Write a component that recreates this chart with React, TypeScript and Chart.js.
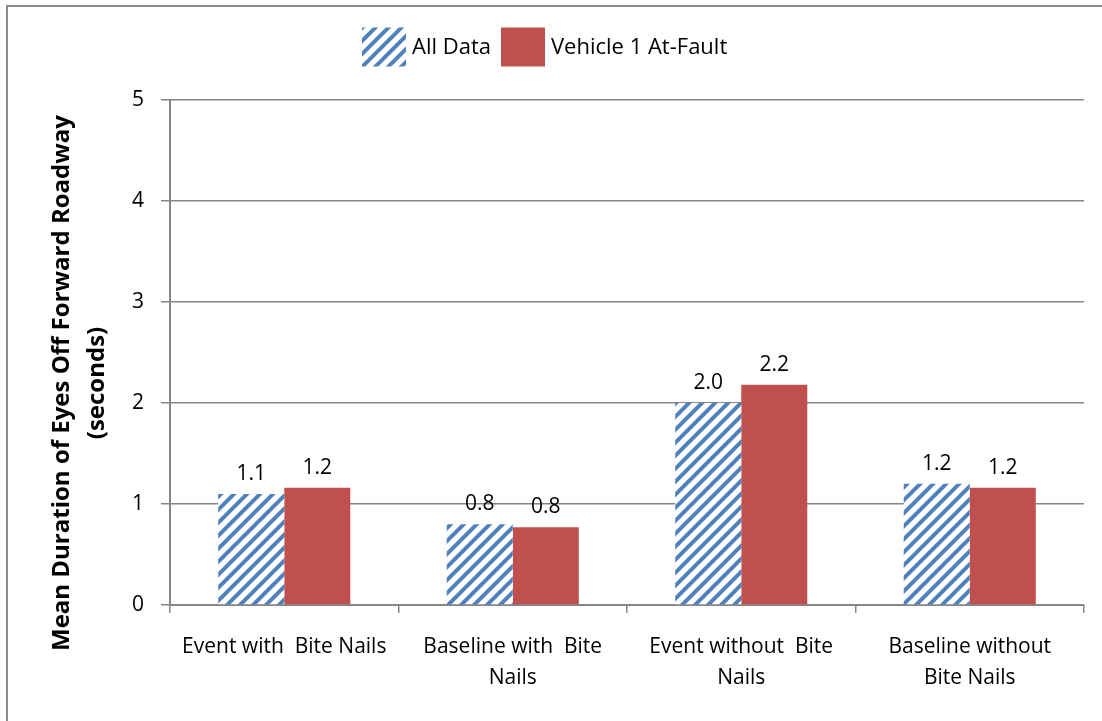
import React, { useEffect, useRef } from "react";
import { Chart, registerables } from "chart.js";

Chart.register(...registerables);

const categories: string[][] = [
  ["Event with  Bite Nails"],
  ["Baseline with  Bite", "Nails"],
  ["Event without  Bite", "Nails"],
  ["Baseline without", "Bite Nails"],
];
const allData = [1.1, 0.8, 2.0, 1.2];
const vehicleAtFault = [1.16, 0.77, 2.18, 1.16];
const seriesNames = ["All Data", "Vehicle 1 At-Fault"];
const yTitleLines = ["Mean Duration of Eyes Off Forward Roadway", "(seconds)"];
const yMin = 0;
const yMax = 5;

const BLUE = "#4F81BD";
const RED = "#C0504D";
const GRID = "#868686";
const FONT = "'Open Sans', 'Liberation Sans', sans-serif";

function makeHatch(): CanvasPattern | string {
  const size = 13;
  const c = document.createElement("canvas");
  c.width = size;
  c.height = size;
  const g = c.getContext("2d");
  if (!g) return BLUE;
  g.fillStyle = "#ffffff";
  g.fillRect(0, 0, size, size);
  g.strokeStyle = BLUE;
  g.lineWidth = 4;
  g.beginPath();
  g.moveTo(-size, 2 * size);
  g.lineTo(2 * size, -size);
  g.moveTo(-size, size);
  g.lineTo(size, -size);
  g.moveTo(0, 2 * size);
  g.lineTo(2 * size, 0);
  g.stroke();
  const p = g.createPattern(c, "repeat");
  return p || BLUE;
}

export default function App() {
  const ref = useRef<HTMLCanvasElement | null>(null);

  useEffect(() => {
    const canvas = ref.current;
    if (!canvas) return;
    const hatch = makeHatch();

    const extras = {
      id: "extras",
      afterDraw(chart: any) {
        const ctx = chart.ctx as CanvasRenderingContext2D;
        ctx.save();
        // frame
        ctx.strokeStyle = "#8C8C8C";
        ctx.lineWidth = 2;
        ctx.strokeRect(7, 6, 1200, 800);

        // value labels
        ctx.fillStyle = "#000";
        ctx.font = `21px ${FONT}`;
        ctx.textAlign = "center";
        ctx.textBaseline = "alphabetic";
        chart.data.datasets.forEach((ds: any, i: number) => {
          const meta = chart.getDatasetMeta(i);
          meta.data.forEach((bar: any, j: number) => {
            const v = ds.data[j] as number;
            ctx.fillText(v.toFixed(1), bar.x, bar.y - 14);
          });
        });

        // y axis title
        const cy = 383;
        ctx.font = `bold 24px ${FONT}`;
        ctx.textBaseline = "middle";
        ctx.textAlign = "center";
        yTitleLines.forEach((line, k) => {
          ctx.save();
          ctx.translate(62 + k * 35, cy);
          ctx.rotate(-Math.PI / 2);
          ctx.fillText(line, 0, 0, 552);
          ctx.restore();
        });

        // legend
        const items = [
          { label: seriesNames[0], fill: hatch },
          { label: seriesNames[1], fill: RED },
        ];
        ctx.font = `22px ${FONT}`;
        ctx.textAlign = "left";
        ctx.textBaseline = "middle";
        const boxW = 44;
        const boxH = 39;
        const gap = 6;
        const itemGap = 10;
        let x = 362;
        const y = 47;
        items.forEach((it) => {
          ctx.fillStyle = it.fill as any;
          ctx.fillRect(x, y - boxH / 2, boxW, boxH);
          ctx.fillStyle = "#000";
          ctx.fillText(it.label, x + boxW + gap, y + 1);
          x += boxW + gap + ctx.measureText(it.label).width + itemGap;
        });
        ctx.restore();
      },
    };

    const chart = new Chart(canvas, {
      type: "bar",
      data: {
        labels: categories,
        datasets: [
          {
            label: seriesNames[0],
            data: allData,
            backgroundColor: hatch as any,
            borderWidth: 0,
            categoryPercentage: 0.578,
            barPercentage: 1,
          },
          {
            label: seriesNames[1],
            data: vehicleAtFault,
            backgroundColor: RED,
            borderWidth: 0,
            categoryPercentage: 0.578,
            barPercentage: 1,
          },
        ],
      },
      options: {
        responsive: false,
        animation: false,
        devicePixelRatio: 1,
        layout: { padding: { top: 100, right: 18, left: 0, bottom: 0 } },
        plugins: {
          legend: { display: false },
          tooltip: { enabled: false },
        },
        scales: {
          x: {
            grid: {
              display: true,
              drawOnChartArea: false,
              drawTicks: true,
              tickLength: 8,
              color: GRID,
              lineWidth: 1.5,
              offset: true,
            },
            border: { display: true, color: GRID, width: 2 },
            ticks: {
              color: "#000",
              font: { family: FONT, size: 21, lineHeight: 1.5 },
              padding: 18,
              maxRotation: 0,
              autoSkip: false,
            },
            afterFit: (s: any) => {
              s.height = 116;
            },
          },
          y: {
            min: yMin,
            max: yMax,
            grid: {
              color: GRID,
              lineWidth: 1.5,
              drawTicks: true,
              tickLength: 9,
            },
            border: { display: true, color: GRID, width: 2 },
            ticks: {
              stepSize: 1,
              color: "#000",
              font: { family: FONT, size: 21 },
              padding: 17,
            },
            afterFit: (s: any) => {
              s.width = 170;
            },
          },
        },
      },
      plugins: [extras],
    });
    return () => chart.destroy();
  }, []);

  return (
    <div style={{ position: "fixed", left: 0, top: 0, width: 1102, height: 721, background: "#fff" }}>
      <canvas ref={ref} width={1102} height={721} style={{ width: 1102, height: 721, display: "block" }} />
    </div>
  );
}
